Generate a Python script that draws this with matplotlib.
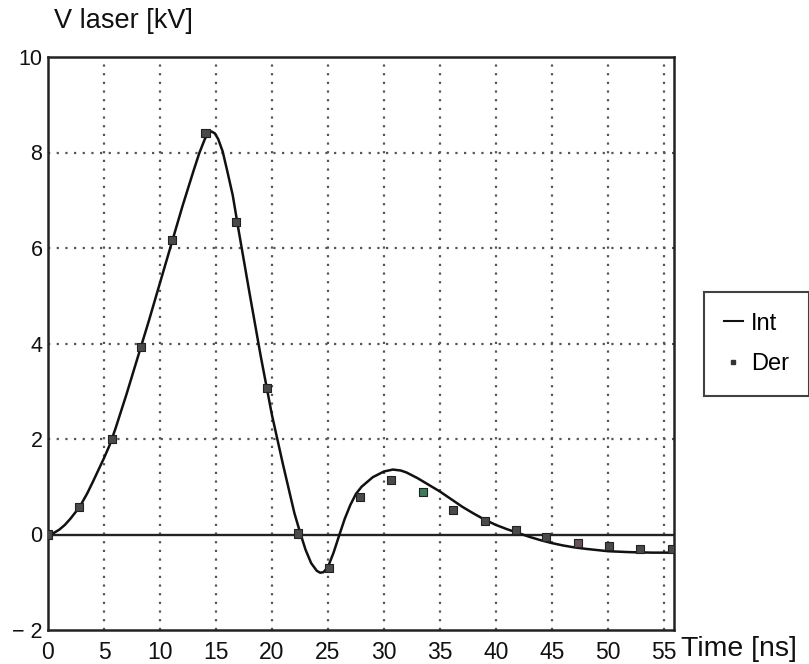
import matplotlib
matplotlib.use("Agg")
import matplotlib.pyplot as plt
from matplotlib.lines import Line2D

plt.rcParams['font.family'] = ['Liberation Sans', 'DejaVu Sans']

# Der: sampled points (ns, kV)
der_t = [0.0, 2.79, 5.69, 8.27, 11.1, 14.06, 16.79, 19.54, 22.36, 25.09, 27.85,
         30.66, 33.48, 36.15, 39.03, 41.78, 44.51, 47.33, 50.09, 52.9, 55.73]
der_v = [0.0, 0.58, 2.0, 3.93, 6.17, 8.40, 6.55, 3.07, 0.02, -0.71, 0.78,
         1.15, 0.89, 0.51, 0.29, 0.09, -0.05, -0.17, -0.24, -0.30, -0.31]
der_colors = ['#4a4a4a'] * len(der_t)
der_colors[12] = '#3f7a5a'
der_colors[17] = '#6a5060'

# Int: continuous curve (ns, kV)
int_t = [0, 0.5, 1, 1.5, 2, 2.5, 3, 3.5, 4, 4.5, 5, 5.5, 6, 7, 8, 9, 10, 11, 12, 13,
         13.5, 14, 14.3, 14.6, 14.9, 15.2, 15.6, 16, 16.5, 17, 18, 19, 20, 21, 22,
         22.5, 23, 23.5, 24, 24.3, 24.6, 25, 25.5, 26, 26.5, 27, 27.5, 28, 29,
         30, 30.8, 31.5, 32, 33, 34, 35, 36, 37, 38, 39, 40, 41, 42, 43, 44, 45,
         46, 47, 48, 50, 52, 54, 56]
int_v = [0, 0.03, 0.1, 0.2, 0.33, 0.48, 0.65, 0.86, 1.1, 1.35, 1.6, 1.87, 2.2, 2.93, 3.7,
         4.47, 5.27, 6.07, 6.87, 7.62, 7.98, 8.28, 8.4, 8.44, 8.4, 8.28, 8.02, 7.62, 7.1,
         6.4, 5.05, 3.73, 2.5, 1.45, 0.45, 0.05, -0.32, -0.6, -0.76, -0.8, -0.79, -0.68,
         -0.38, -0.02, 0.33, 0.62, 0.85, 1.0, 1.2, 1.32, 1.36, 1.34, 1.3, 1.18, 1.04,
         0.9, 0.74, 0.58, 0.44, 0.31, 0.2, 0.11, 0.03, -0.05, -0.12, -0.18, -0.23,
         -0.27, -0.30, -0.35, -0.37, -0.38, -0.38]

x_ticks = [0, 5, 10, 15, 20, 25, 30, 35, 40, 45, 50, 55]
y_ticks = [-2, 0, 2, 4, 6, 8, 10]
y_ticklabels = ['\u2212 2', '0', '2', '4', '6', '8', '10']

fig = plt.figure(figsize=(8.09, 6.64), dpi=100)
ax = fig.add_axes([48/809, 1 - 630/664, (674 - 48)/809, (630 - 57)/664])

ax.set_xlim(0, 55.9)
ax.set_ylim(-2, 10)

# dotted grid
dots = (0, (1, 2.9))
for gx in x_ticks[1:]:
    ax.axvline(gx, color='#555555', linestyle=dots, linewidth=1.6, zorder=1)
for gy in [2, 4, 6, 8]:
    ax.axhline(gy, color='#555555', linestyle=dots, linewidth=1.6, zorder=1)
ax.axhline(0, color='#222222', linewidth=1.7, zorder=2)

ax.plot(int_t, int_v, color='#111111', linewidth=1.8, zorder=3)
ax.scatter(der_t, der_v, marker='s', s=34, c=der_colors, edgecolors='#222222',
           linewidths=0.8, zorder=4)

ax.set_xticks(x_ticks)
ax.set_yticks(y_ticks)
ax.set_yticklabels(y_ticklabels)
ax.tick_params(length=0, colors='#111111')
ax.tick_params(axis='y', labelsize=15.5, pad=4)
ax.tick_params(axis='x', labelsize=16.5, pad=8)
for s in ax.spines.values():
    s.set_linewidth(1.8)
    s.set_color('#222222')

fig.text(54/809, 1 - 21/664, 'V laser [kV]', fontsize=19.5, ha='left', va='center',
         color='#111111')
fig.text(681/809, 1 - 649/664, 'Time [ns]', fontsize=20.5, ha='left', va='center',
         color='#111111')

handles = [Line2D([], [], color='#111111', linewidth=1.5),
           Line2D([], [], color='#333333', marker='s', markersize=2.5, linestyle='None')]
leg = fig.legend(handles, ['Int', 'Der'], loc='center',
                 bbox_to_anchor=(756.5/809, 1 - 344/664), fontsize=17, frameon=True,
                 fancybox=False, edgecolor='#111111', handlelength=0.8,
                 handletextpad=0.35, borderpad=0.85, labelspacing=0.8,
                 borderaxespad=0)
leg.get_frame().set_linewidth(1.5)

fig.savefig('out.png', dpi=100)
